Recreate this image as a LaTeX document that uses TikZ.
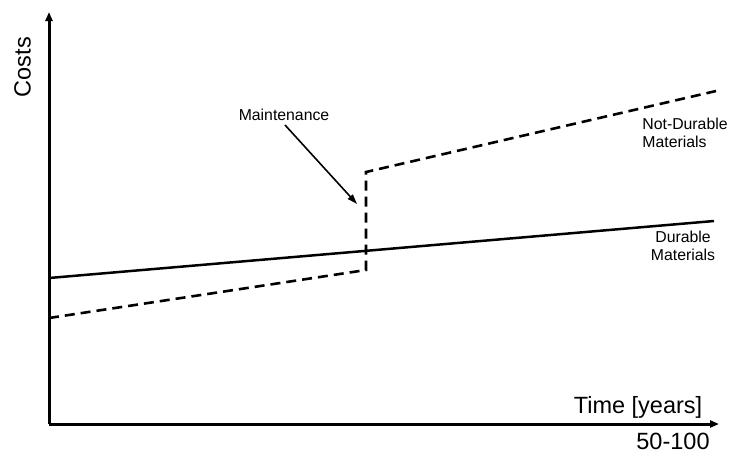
\documentclass[tikz,border=0pt]{standalone}
\usepackage{fontspec}
\setmainfont{Liberation Sans}
\usetikzlibrary{arrows.meta}
\begin{document}
\begin{tikzpicture}[x=1pt,y=-1pt,
  axis/.style={line width=3pt,-{Triangle[length=9pt,width=7pt]}},
  solidline/.style={line width=2.5pt},
  dashline/.style={line width=2.6pt,dash pattern=on 10pt off 6pt},
  small/.style={font=\fontsize{15.8}{18}\selectfont,inner sep=0pt},
  big/.style={font=\fontsize{23.5}{27}\selectfont,inner sep=0pt},
  pointer/.style={line width=1.6pt,-{Triangle[length=10pt,width=6.5pt]}}]
\useasboundingbox (0,0) rectangle (731,456);
\coordinate (o) at (49,424);
\coordinate (ytip) at (49,12);
\coordinate (xtip) at (719,424);
\draw[axis] (o) -- (ytip);
\draw[axis] (o) -- (xtip);
% lines
\coordinate (s0) at (49,278);
\coordinate (s1) at (714,221);
\draw[solidline] (s0) -- (s1);
\coordinate (d0) at (49,318);
\coordinate (d1) at (366,270);
\coordinate (d2) at (366,172);
\coordinate (d3) at (716,91);
\draw[dashline] (d0) -- (d1) -- (d2) -- (d3);
% labels
\node[big,rotate=90] (costs) at (22.5,67) {Costs};
\node[big] (time) at (638,407) {Time [years]};
\node[big] (range) at (673,441) {50-100};
\node[small] (maint) at (284,115) {Maintenance};
\coordinate (mtip) at (357,204);
\draw[pointer] (285,125) -- (mtip);
\node[small,align=left] (nd) at (685,133) {Not-Durable\\Materials};
\node[small,align=center] (du) at (683,246) {Durable\\Materials};
\end{tikzpicture}
\end{document}
